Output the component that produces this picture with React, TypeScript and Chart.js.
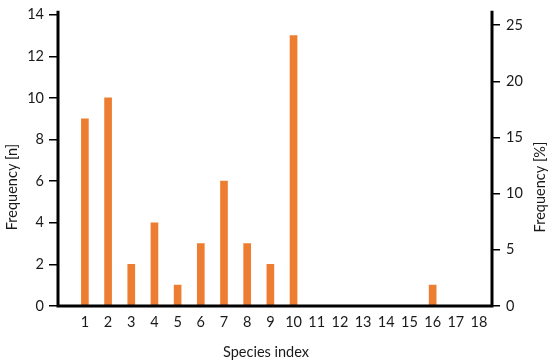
import React, { useEffect, useRef } from "react";
import { Chart, registerables } from "chart.js";

Chart.register(...registerables);

const categories = ["1","2","3","4","5","6","7","8","9","10","11","12","13","14","15","16","17","18"];
const counts = [9, 10, 2, 4, 1, 3, 6, 3, 2, 13, 0, 0, 0, 0, 0, 1, 0, 0];
const leftTicks = [0, 2, 4, 6, 8, 10, 12, 14];
const rightTicks = [0, 5, 10, 15, 20, 25];
const leftTitle = "Frequency [n]";
const rightTitle = "Frequency [%]";
const xTitle = "Species index";

const FONT = "Lato, 'Open Sans', sans-serif";
const TEXT = "#1a1a1a";
const FS = 14.5;

const total = counts.reduce((a, b) => a + b, 0);
const leftMax = leftTicks[leftTicks.length - 1];

const axesPlugin = {
  id: "axesAndTitles",
  afterDraw(chart: any) {
    const { ctx, chartArea } = chart;
    const { left, right, top, bottom } = chartArea;
    ctx.save();
    ctx.strokeStyle = "#000";
    ctx.lineWidth = 3;
    ctx.beginPath();
    ctx.moveTo(left, top - 4);
    ctx.lineTo(left, bottom);
    ctx.lineTo(right, bottom);
    ctx.lineTo(right, top - 4);
    ctx.stroke();

    ctx.fillStyle = TEXT;
    ctx.font = `${FS}px ${FONT}`;
    ctx.textAlign = "center";
    ctx.textBaseline = "middle";
    const midY = 187;
    ctx.save();
    ctx.translate(12, midY);
    ctx.rotate(-Math.PI / 2);
    ctx.fillText(leftTitle, 0, 0);
    ctx.restore();
    ctx.save();
    ctx.translate(540, midY);
    ctx.rotate(-Math.PI / 2);
    ctx.fillText(rightTitle, 0, 0);
    ctx.restore();
    ctx.fillText(xTitle, 266, 352);
    ctx.restore();
  },
};

export default function App() {
  const ref = useRef<HTMLCanvasElement>(null);
  useEffect(() => {
    if (!ref.current) return;
    const chart = new Chart(ref.current, {
      type: "bar",
      data: {
        datasets: [
          {
            data: counts.map((v, i) => ({ x: i + 1, y: v })),
            backgroundColor: "#ED7D31",
            borderWidth: 0,
            barThickness: 7,
            yAxisID: "y",
          },
        ],
      },
      options: {
        responsive: false,
        animation: false,
        parsing: { xAxisKey: "x", yAxisKey: "y" } as any,
        layout: { padding: { top: 11, left: 0, right: 0, bottom: 0 } },
        plugins: { legend: { display: false }, tooltip: { enabled: false } },
        scales: {
          x: {
            type: "linear",
            offset: false,
            min: -0.16,
            max: 18.56,
            afterBuildTicks: (s: any) => {
              s.ticks = categories.map((_, i) => ({ value: i + 1 }));
            },
            afterFit: (s: any) => {
              s.height = 58;
            },
            ticks: {
              autoSkip: false,
              maxRotation: 0,
              padding: 8,
              color: TEXT,
              font: { family: FONT, size: FS },
              callback: (v: any) => categories[Math.round(v) - 1] ?? "",
            },
            grid: { display: false, drawTicks: false, offset: false },
            border: { display: false },
          },
          y: {
            type: "linear",
            position: "left",
            min: 0,
            max: leftMax,
            afterBuildTicks: (s: any) => {
              s.ticks = leftTicks.map((v) => ({ value: v }));
            },
            afterFit: (s: any) => {
              s.width = 58;
            },
            ticks: {
              padding: 5,
              color: TEXT,
              font: { family: FONT, size: FS },
            },
            grid: {
              drawOnChartArea: false,
              drawTicks: true,
              tickLength: 9,
              color: "#000",
              lineWidth: 1.5,
            },
            border: { display: false },
          },
          y1: {
            type: "linear",
            position: "right",
            min: 0,
            max: (leftMax / total) * 100,
            afterBuildTicks: (s: any) => {
              s.ticks = rightTicks.map((v) => ({ value: v }));
            },
            afterFit: (s: any) => {
              s.width = 58;
            },
            ticks: {
              padding: 6,
              color: TEXT,
              font: { family: FONT, size: FS },
            },
            grid: {
              drawOnChartArea: false,
              drawTicks: true,
              tickLength: 8,
              color: "#000",
              lineWidth: 1.5,
            },
            border: { display: false },
          },
        },
      },
      plugins: [axesPlugin],
    });
    return () => chart.destroy();
  }, []);
  return (
    <div style={{ position: "fixed", left: 0, top: 0, width: 550, height: 364, background: "#fff" }}>
      <canvas ref={ref} width={550} height={364} />
    </div>
  );
}
